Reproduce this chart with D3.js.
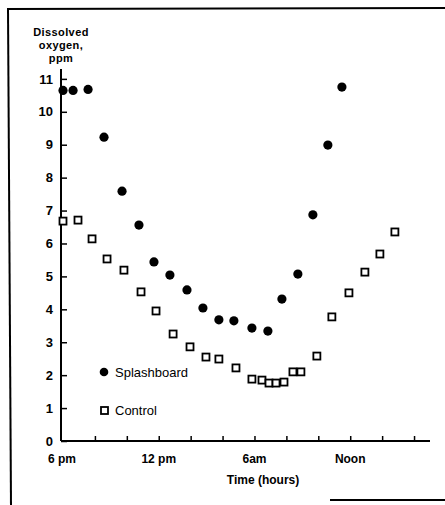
<!DOCTYPE html>
<html>
<head>
<meta charset="utf-8">
<script src="https://cdn.jsdelivr.net/npm/d3@7"></script>
<style>
  html, body { margin: 0; padding: 0; background: #fff; }
  svg { display: block; }
  text { font-family: "Liberation Sans", Arial, sans-serif; fill: #000; }
</style>
</head>
<body>
<svg id="chart" width="445" height="505"></svg>
<script>
// Hours after 6 pm, dissolved oxygen (ppm)
const splashHours = [0, 0.63, 1.57, 2.57, 3.70, 4.76, 5.70, 6.70, 7.77, 8.77, 9.77, 10.71, 11.84, 12.84, 13.72, 14.72, 15.66, 16.60, 17.48];
const splashValues = [10.65, 10.65, 10.68, 9.23, 7.59, 6.56, 5.44, 5.04, 4.59, 4.04, 3.68, 3.65, 3.43, 3.34, 4.31, 5.07, 6.87, 8.99, 10.75];
const controlHours = [0, 0.94, 1.82, 2.76, 3.82, 4.89, 5.83, 6.90, 7.96, 8.96, 9.77, 10.84, 11.84, 12.47, 12.91, 13.35, 13.85, 14.41, 14.91, 15.91, 16.85, 17.92, 18.92, 19.86, 20.80];
const controlValues = [6.68, 6.71, 6.14, 5.53, 5.19, 4.53, 3.95, 3.25, 2.86, 2.55, 2.49, 2.22, 1.88, 1.85, 1.76, 1.76, 1.79, 2.10, 2.10, 2.58, 3.77, 4.50, 5.13, 5.68, 6.35];
const yTicks = [0, 1, 2, 3, 4, 5, 6, 7, 8, 9, 10, 11];
const xTicks = [0, 2, 4, 6, 8, 10, 12, 14, 16, 18, 20, 22];
const xTickLabels = [[0, "6 pm"], [6, "12 pm"], [12, "6am"], [18, "Noon"]];
const yTitle = ["Dissolved", "oxygen,", "ppm"];
const xTitle = "Time (hours)";
const legendItems = ["Splashboard", "Control"];

const svg = d3.select("#chart");
const x = d3.scaleLinear().domain([0, 23]).range([63, 430]);
const y = d3.scaleLinear().domain([0, 11.3]).range([441, 69]);

// Frame (partial, as in scanned figure)
const frame = svg.append("g").attr("stroke", "#000").attr("stroke-width", 2).attr("fill", "none");
frame.append("line").attr("x1", 7).attr("y1", 9).attr("x2", 445).attr("y2", 8);
frame.append("line").attr("x1", 8).attr("y1", 8).attr("x2", 11).attr("y2", 505);
frame.append("line").attr("x1", 330).attr("y1", 500).attr("x2", 445).attr("y2", 500);

// Axes
const yAxis = d3.axisRight(y).tickValues(yTicks).tickSize(6).tickFormat("");
const gy = svg.append("g").attr("transform", `translate(${x(0) - 2},0)`).call(yAxis);
gy.select(".domain").attr("d", `M0,${y(11.3)}V${y(0)}`).attr("stroke-width", 2);
gy.selectAll(".tick line").attr("stroke-width", 1.5);

const xAxis = d3.axisTop(x).tickValues(xTicks.filter(d => d > 0)).tickSize(5).tickFormat("");
const gx = svg.append("g").attr("transform", `translate(0,${y(0)})`).call(xAxis);
gx.select(".domain").attr("d", `M${x(0) - 2},0H${x(23)}`).attr("stroke-width", 2);
gx.selectAll(".tick line").attr("stroke-width", 1.5);

// Y tick labels
svg.append("g").selectAll("text").data(yTicks).join("text")
  .attr("x", 53).attr("y", d => y(d)).attr("dy", "0.36em")
  .attr("text-anchor", "end").attr("font-size", 13).attr("font-weight", "bold")
  .text(d => d);

// X tick labels
svg.append("g").selectAll("text").data(xTickLabels).join("text")
  .attr("x", (d, i) => i === 0 ? 48 : x(d[0]))
  .attr("y", 463)
  .attr("text-anchor", (d, i) => i === 0 ? "start" : "middle")
  .attr("font-size", 12).attr("font-weight", "bold")
  .text(d => d[1]);

// Titles
svg.append("g").selectAll("text").data(yTitle).join("text")
  .attr("x", 61).attr("y", (d, i) => 36 + i * 12.8)
  .attr("text-anchor", "middle").attr("font-size", 11).attr("font-weight", "bold")
  .attr("letter-spacing", 0.4)
  .text(d => d);
svg.append("text").attr("x", 263).attr("y", 484).attr("text-anchor", "middle")
  .attr("font-size", 12).attr("font-weight", "bold").text(xTitle);

// Data
const splash = splashHours.map((h, i) => [h, splashValues[i]]);
const control = controlHours.map((h, i) => [h, controlValues[i]]);

svg.append("g").selectAll("rect").data(control).join("rect")
  .attr("x", d => x(d[0]) - 3.5).attr("y", d => y(d[1]) - 3.5)
  .attr("width", 7).attr("height", 7)
  .attr("fill", "#fff").attr("stroke", "#000").attr("stroke-width", 1.8);

svg.append("g").selectAll("circle").data(splash).join("circle")
  .attr("cx", d => x(d[0])).attr("cy", d => y(d[1])).attr("r", 4.6).attr("fill", "#000");

// Legend
const lg = svg.append("g");
lg.append("circle").attr("cx", 104).attr("cy", 372).attr("r", 4.3).attr("fill", "#000");
lg.append("rect").attr("x", 101).attr("y", 407).attr("width", 7).attr("height", 7)
  .attr("fill", "#fff").attr("stroke", "#000").attr("stroke-width", 1.8);
lg.selectAll("text").data(legendItems).join("text")
  .attr("x", 115).attr("y", (d, i) => i === 0 ? 376.5 : 415)
  .attr("font-size", 13).text(d => d);
</script>
</body>
</html>
